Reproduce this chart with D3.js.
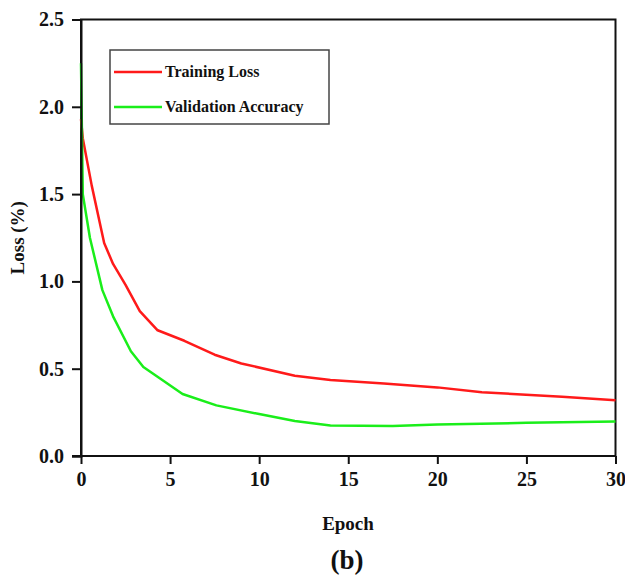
<!DOCTYPE html>
<html>
<head>
<meta charset="utf-8">
<script src="https://cdn.jsdelivr.net/npm/d3@7"></script>
<style>
  body { margin: 0; background: #fff; }
  svg { display: block; }
</style>
</head>
<body>
<script>
// values
const lossEpoch = [0, 0.1, 0.6, 1.3, 1.8, 2.5, 3.3, 4.3, 5.8, 7.5, 9, 12, 14, 17, 20, 22.5, 27, 30]
const trainingLoss = [1.93, 1.82, 1.55, 1.22, 1.10, 0.98, 0.83, 0.72, 0.66, 0.58, 0.53, 0.46, 0.435, 0.415, 0.393, 0.365, 0.34, 0.32]

const accEpoch = [0, 0.1, 0.5, 1.2, 1.8, 2.8, 3.5, 4.5, 5.7, 7.6, 10, 12, 14, 17.5, 20, 25, 30]
const validationAccuracy = [2.25, 1.5, 1.25, 0.95, 0.80, 0.60, 0.51, 0.44, 0.355, 0.29, 0.24, 0.20, 0.175, 0.172, 0.18, 0.19, 0.197]

const xTicks = [0, 5, 10, 15, 20, 25, 30]
const yTicks = [0, 0.5, 1.0, 1.5, 2.0, 2.5]

const series = [
  { name: 'Training Loss', color: '#ff1a1a', xs: lossEpoch, ys: trainingLoss },
  { name: 'Validation Accuracy', color: '#1aee1a', xs: accEpoch, ys: validationAccuracy }
]

const width = 625
const height = 576
const margin = { top: 19.5, right: 10, bottom: 120, left: 81 }
const fontFamily = '"Liberation Serif", "Times New Roman", serif'

const svg = d3.select('body').append('svg')
  .attr('width', width).attr('height', height)

const x = d3.scaleLinear().domain([0, 30]).range([margin.left, 615.5])
const y = d3.scaleLinear().domain([0, 2.5]).range([456, margin.top])

// frame
svg.append('rect')
  .attr('x', x(0)).attr('y', y(2.5))
  .attr('width', x(30) - x(0)).attr('height', y(0) - y(2.5))
  .attr('fill', 'none').attr('stroke', '#111').attr('stroke-width', 2)

const line = d3.line().x(d => x(d[0])).y(d => y(d[1]))

series.forEach(s => {
  svg.append('path')
    .datum(s.xs.map((v, i) => [v, s.ys[i]]))
    .attr('d', line)
    .attr('fill', 'none')
    .attr('stroke', s.color)
    .attr('stroke-width', 2.5)
    .attr('stroke-linejoin', 'round')
})

const xAxis = svg.append('g')
  .attr('transform', `translate(0,${y(0)})`)
  .call(d3.axisBottom(x).tickValues(xTicks).tickSize(8).tickPadding(8).tickFormat(d3.format('d')))
const yAxis = svg.append('g')
  .attr('transform', `translate(${x(0)},0)`)
  .call(d3.axisLeft(y).tickValues(yTicks).tickSize(9).tickPadding(8).tickFormat(d3.format('.1f')))

;[xAxis, yAxis].forEach(g => {
  g.select('.domain').attr('stroke', '#111').attr('stroke-width', 2)
  g.selectAll('.tick line').attr('stroke', '#111').attr('stroke-width', 2)
  g.selectAll('.tick text')
    .attr('fill', '#111')
    .attr('font-family', fontFamily)
    .attr('font-weight', 'bold')
    .attr('font-size', 20)
})
// extend x-axis line left to meet the 0.0 tick
xAxis.select('.domain').attr('d', `M${x(0) - 9},0H${x(30)}`)

// axis titles
svg.append('text')
  .attr('x', 348).attr('y', 530)
  .attr('text-anchor', 'middle')
  .attr('font-family', fontFamily).attr('font-weight', 'bold').attr('font-size', 19)
  .attr('fill', '#111')
  .text('Epoch')

svg.append('text')
  .attr('transform', `translate(24,${(y(0) + y(2.5)) / 2}) rotate(-90)`)
  .attr('text-anchor', 'middle')
  .attr('font-family', fontFamily).attr('font-weight', 'bold').attr('font-size', 19)
  .attr('fill', '#111')
  .text('Loss (%)')

svg.append('text')
  .attr('x', 347).attr('y', 569)
  .attr('text-anchor', 'middle')
  .attr('font-family', fontFamily).attr('font-weight', 'bold').attr('font-size', 27)
  .attr('fill', '#111')
  .text('(b)')

// legend
const legend = svg.append('g')
legend.append('rect')
  .attr('x', 110).attr('y', 50).attr('width', 219).attr('height', 74)
  .attr('fill', '#fff').attr('stroke', '#444').attr('stroke-width', 1.5)

series.forEach((s, i) => {
  const ly = 72 + i * 35
  legend.append('line')
    .attr('x1', 114).attr('x2', 162).attr('y1', ly).attr('y2', ly)
    .attr('stroke', s.color).attr('stroke-width', 2.5)
  legend.append('text')
    .attr('x', 165).attr('y', ly + 5)
    .attr('font-family', fontFamily).attr('font-weight', 'bold').attr('font-size', 16)
    .attr('fill', '#111')
    .text(s.name)
})
</script>
</body>
</html>
